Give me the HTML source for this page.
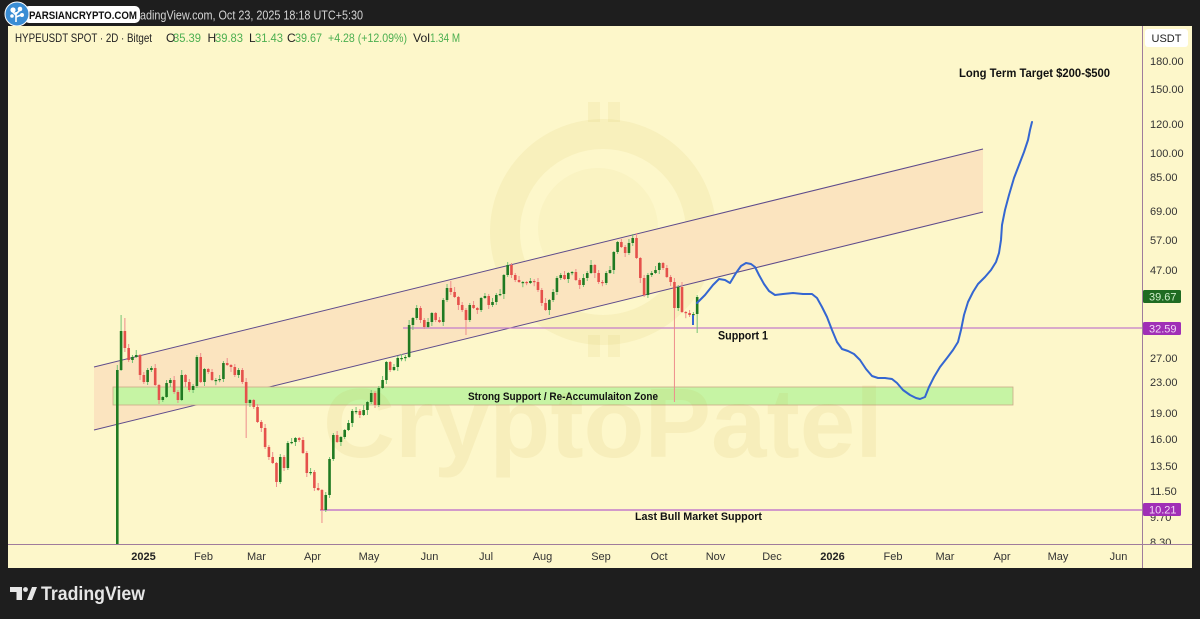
<!DOCTYPE html>
<html>
<head>
<meta charset="utf-8">
<style>
html,body{margin:0;padding:0;background:#1e1e1e;}
svg{display:block;}
text{font-family:"Liberation Sans",Arial,sans-serif;}
</style>
</head>
<body>
<svg id="s" width="1200" height="619" viewBox="0 0 1200 619" xmlns="http://www.w3.org/2000/svg">
  <defs>
    <clipPath id="plot"><rect x="8" y="26" width="1134" height="518"/></clipPath>
    <clipPath id="axis"><rect x="1143" y="26" width="49" height="518"/></clipPath>
  </defs>
  <rect x="0" y="0" width="1200" height="619" fill="#1e1e1e"/>
  <!-- top bar -->
  <text x="140" y="19.5" font-size="13" fill="#d4d4d4" textLength="223" lengthAdjust="spacingAndGlyphs">adingView.com, Oct 23, 2025 18:18 UTC+5:30</text>
  <rect x="24" y="6" width="116" height="17" rx="5" fill="#ffffff"/>
  <text x="29" y="19" font-size="11" font-weight="bold" fill="#111" textLength="108" lengthAdjust="spacingAndGlyphs">PARSIANCRYPTO.COM</text>
  <circle cx="17" cy="14" r="12" fill="#3a8dd4" stroke="#ffffff" stroke-width="1"/>
  <circle cx="13" cy="10" r="2.6" fill="#fff"/><circle cx="20" cy="9" r="2.3" fill="#fff"/><circle cx="22" cy="15" r="2" fill="#fff"/><circle cx="12" cy="16" r="1.8" fill="#fff"/>
  <path d="M16 12 L16 22 M16 15 L12 11 M16 14 L20 10 M16 17 L21 15" stroke="#fff" stroke-width="1.6" fill="none"/>

  <!-- panel -->
  <rect x="8" y="26" width="1184" height="542" fill="#fdf7ca"/>

  <g clip-path="url(#plot)">
    <!-- watermark ring -->
    <circle cx="603" cy="232" r="98" fill="none" stroke="rgba(205,175,60,0.09)" stroke-width="30"/>
    <circle cx="598" cy="228" r="60" fill="rgba(205,175,60,0.05)"/>
    <rect x="588" y="102" width="12" height="20" fill="rgba(205,175,60,0.09)"/>
    <rect x="608" y="102" width="12" height="20" fill="rgba(205,175,60,0.09)"/>
    <rect x="588" y="335" width="12" height="22" fill="rgba(205,175,60,0.09)"/>
    <rect x="608" y="335" width="12" height="22" fill="rgba(205,175,60,0.09)"/>

    <!-- channel -->
    <polygon points="94,367 983,149 983,212 94,430" fill="#fbe4bf"/>
    <line x1="94" y1="367" x2="983" y2="149" stroke="#5e4b8b" stroke-width="1"/>
    <line x1="94" y1="430" x2="983" y2="212" stroke="#5e4b8b" stroke-width="1"/>

    <!-- green zone -->
    <rect x="113" y="387" width="900" height="18" fill="#c6f4a4" stroke="#caa987" stroke-width="0.8"/>

    <!-- watermark text -->
    <text x="323" y="457" font-size="98" font-weight="bold" fill="rgba(200,170,60,0.10)" textLength="560" lengthAdjust="spacingAndGlyphs">CryptoPatel</text>

    <!-- support lines -->
    <line x1="403" y1="328" x2="1142" y2="328" stroke="#c47cc9" stroke-width="1.2"/>
    <line x1="320" y1="510" x2="1142" y2="510" stroke="#c47cc9" stroke-width="1.4"/>

    <!-- candles -->
    <g id="candles"></g>

    <!-- projection -->
    <line x1="693" y1="315" x2="693" y2="325" stroke="#3466d1" stroke-width="2"/>
    <polyline fill="none" stroke="#3466d1" stroke-width="2" stroke-linejoin="round" stroke-linecap="round"
      points="697,303 705,295 713,285 719,279 725,280 730,283 736,273 741,266 746,263 751,264 755,267 759,275 764,284 769,291 775,295 783,294 793,293 803,294 812,294 817,298 822,307 827,317 832,330 837,342 842,349 848,351 854,354 860,360 866,369 872,376 878,378 885,378 892,379 897,383 903,390 910,395 916,398 920,399 925,397 929,387 934,377 940,367 947,358 953,350 958,342 961,330 964,315 968,302 973,292 978,284 985,277 991,270 996,262 999,253 1001,240 1002,225 1005,210 1009,195 1014,178 1019,165 1024,152 1028,140 1030,130 1032,122"/>

    <!-- annotations -->
    <text x="468" y="400" font-size="11" font-weight="bold" fill="#111" textLength="190" lengthAdjust="spacingAndGlyphs">Strong Support / Re-Accumulaiton Zone</text>
    <text x="718" y="339.5" font-size="12" font-weight="bold" fill="#111" textLength="50" lengthAdjust="spacingAndGlyphs">Support 1</text>
    <text x="635" y="520" font-size="11" font-weight="bold" fill="#111" textLength="127" lengthAdjust="spacingAndGlyphs">Last Bull Market Support</text>
    <text x="959" y="77" font-size="11.5" font-weight="bold" fill="#111" textLength="151" lengthAdjust="spacingAndGlyphs">Long Term Target $200-$500</text>
  </g>

  <!-- header -->
  <g font-size="12">
    <text x="15" y="42" fill="#222" textLength="137" lengthAdjust="spacingAndGlyphs">HYPEUSDT SPOT · 2D · Bitget</text>
    <text x="166" y="42" fill="#222">O</text>
    <text x="173" y="42" fill="#4caf50" textLength="28" lengthAdjust="spacingAndGlyphs">35.39</text>
    <text x="207.5" y="42" fill="#222">H</text>
    <text x="215" y="42" fill="#4caf50" textLength="28" lengthAdjust="spacingAndGlyphs">39.83</text>
    <text x="249" y="42" fill="#222">L</text>
    <text x="255" y="42" fill="#4caf50" textLength="28" lengthAdjust="spacingAndGlyphs">31.43</text>
    <text x="287" y="42" fill="#222">C</text>
    <text x="295" y="42" fill="#4caf50" textLength="27" lengthAdjust="spacingAndGlyphs">39.67</text>
    <text x="328" y="42" fill="#4caf50" textLength="79" lengthAdjust="spacingAndGlyphs">+4.28 (+12.09%)</text>
    <text x="413" y="42" fill="#222" textLength="17" lengthAdjust="spacingAndGlyphs">Vol</text>
    <text x="430" y="42" fill="#4caf50" textLength="30" lengthAdjust="spacingAndGlyphs">1.34 M</text>
  </g>

  <!-- axes lines -->
  <line x1="1142.5" y1="26" x2="1142.5" y2="568" stroke="#9f7c9c" stroke-width="1"/>
  <line x1="8" y1="544.5" x2="1192" y2="544.5" stroke="#9f7c9c" stroke-width="1"/>

  <!-- price axis -->
  <rect x="1145" y="29" width="43" height="18" rx="3" fill="#ffffff"/>
  <text x="1166.5" y="42" font-size="11" fill="#222" text-anchor="middle">USDT</text>
  <g font-size="11" fill="#333" clip-path="url(#axis)">
    <text x="1150" y="65">180.00</text>
    <text x="1150" y="93">150.00</text>
    <text x="1150" y="128">120.00</text>
    <text x="1150" y="157">100.00</text>
    <text x="1150" y="181">85.00</text>
    <text x="1150" y="215">69.00</text>
    <text x="1150" y="244">57.00</text>
    <text x="1150" y="274">47.00</text>
    <text x="1150" y="362">27.00</text>
    <text x="1150" y="386">23.00</text>
    <text x="1150" y="417">19.00</text>
    <text x="1150" y="443">16.00</text>
    <text x="1150" y="470">13.50</text>
    <text x="1150" y="495">11.50</text>
    <text x="1150" y="521">9.70</text>
    <text x="1150" y="546">8.30</text>
  </g>
  <rect x="1143" y="290" width="38" height="13" rx="1.5" fill="#1f6b22"/>
  <text x="1149" y="300.5" font-size="11" fill="#cfeecb">39.67</text>
  <rect x="1143" y="322" width="38" height="13" rx="1.5" fill="#a02fb6"/>
  <text x="1149" y="332.5" font-size="11" fill="#f3d6f7">32.59</text>
  <rect x="1143" y="503" width="38" height="13" rx="1.5" fill="#a02fb6"/>
  <text x="1149" y="513.5" font-size="11" fill="#f3d6f7">10.21</text>

  <!-- time axis -->
  <g font-size="11" fill="#333" text-anchor="middle">
    <text x="143.5" y="560" font-weight="bold" fill="#222">2025</text>
    <text x="203.5" y="560">Feb</text>
    <text x="256.5" y="560">Mar</text>
    <text x="312.5" y="560">Apr</text>
    <text x="369" y="560">May</text>
    <text x="429.5" y="560">Jun</text>
    <text x="486" y="560">Jul</text>
    <text x="542.5" y="560">Aug</text>
    <text x="601" y="560">Sep</text>
    <text x="659" y="560">Oct</text>
    <text x="715.5" y="560">Nov</text>
    <text x="772" y="560">Dec</text>
    <text x="832.5" y="560" font-weight="bold" fill="#222">2026</text>
    <text x="893" y="560">Feb</text>
    <text x="945" y="560">Mar</text>
    <text x="1002" y="560">Apr</text>
    <text x="1058" y="560">May</text>
    <text x="1118.5" y="560">Jun</text>
  </g>

  <!-- footer logo -->
  <path d="M10 587 H22 V600 H16.5 V592 H10 Z" fill="#e6e6e6"/>
  <circle cx="25.5" cy="589.5" r="2.4" fill="#e6e6e6"/>
  <path d="M27 600 L32 587 H37 L32 600 Z" fill="#e6e6e6"/>
  <text x="41" y="600" font-size="19" font-weight="bold" fill="#e6e6e6" textLength="104" lengthAdjust="spacingAndGlyphs">TradingView</text>
</svg>
<script>
(function(){
var C=[370,331,348,360,357,355,375,382,370,368,385,400,397,383,380,392,400,375,382,390,
386,357,382,369,372,380,380,379,363,365,367,375,370,382,403,400,407,422,428,447,
457,463,482,457,468,443,442,438,440,453,473,472,488,490,510,495,459,435,442,437,
430,423,411,411,415,410,402,393,405,388,380,362,370,367,358,358,357,325,318,308,
320,327,322,313,320,322,300,288,292,297,305,310,320,305,308,310,298,296,305,302,
295,294,275,265,275,280,282,282,283,281,282,290,303,310,300,292,278,275,279,273,
272,280,285,278,273,265,273,282,283,273,270,252,242,247,253,243,238,258,278,295,
275,273,270,263,268,277,282,308,287,312,313,315,314,297];
var H={0:365,1:315,2:318,88:281,136:234};
var LO={34:438,54:523,92:335,147:402,153:333};
var W=[1,3,2,4,2,5,1,3,2,2,4,1];
var L=[2,1,4,2,3,1,5,2,3,2,1,4];
var s='';
for(var i=0;i<C.length;i++){
  var c=C[i], o=(i==0)?560:C[i-1];
  var x=117.3+3.79*i;
  var up=c<=o;
  var top=Math.min(o,c), bot=Math.max(o,c);
  if(bot-top<1.2){bot=top+1.2;}
  var hi=(H[i]!==undefined)?H[i]:top-W[i%12];
  var lo=(LO[i]!==undefined)?LO[i]:bot+L[i%12];
  var wc=up?'#74c274':'#ee8c8c';
  var bc=up?'#1f7a22':'#e5514b';
  s+='<line x1="'+x.toFixed(2)+'" y1="'+hi+'" x2="'+x.toFixed(2)+'" y2="'+lo+'" stroke="'+wc+'" stroke-width="1"/>';
  s+='<rect x="'+(x-1.3).toFixed(2)+'" y="'+top+'" width="2.6" height="'+(bot-top).toFixed(2)+'" fill="'+bc+'"/>';
}
document.getElementById('candles').innerHTML=s;
})();
</script>
</body>
</html>
